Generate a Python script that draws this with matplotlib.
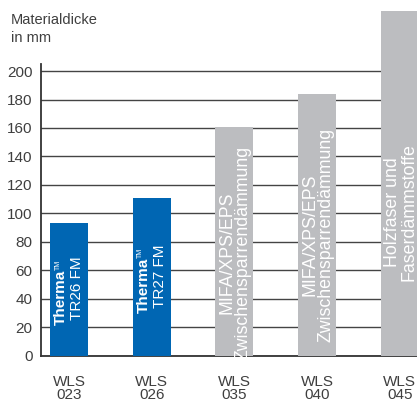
import matplotlib
matplotlib.use("Agg")
import matplotlib.pyplot as plt
import numpy as np

# data
wls_classes = ["023", "026", "035", "040", "045"]
thickness = [93, 111, 161, 184, 242]
bar_colors = ["#0066b3", "#0066b3", "#bcbdc0", "#bcbdc0", "#bcbdc0"]
y_ticks = [0, 20, 40, 60, 80, 100, 120, 140, 160, 180, 200]

plt.rcParams["font.family"] = ["Liberation Sans", "DejaVu Sans"]
text_col = "#3f3f3f"

fig = plt.figure(figsize=(4.17, 4.01), dpi=100)
ax = fig.add_axes([41 / 417, 45.5 / 401, 376 / 417, 355.5 / 401])

index = np.arange(len(wls_classes))
ax.bar(index, thickness, 0.46, color=bar_colors, zorder=3)

ax.set_xlim(-0.34, 4.21)
ax.set_ylim(0, 250)

ax.set_yticks(y_ticks)
ax.set_yticklabels([str(v) for v in y_ticks], fontsize=11, color=text_col)
ax.yaxis.grid(True, color="#444444", linewidth=1.0, zorder=1)
ax.set_axisbelow(True)

ax.set_xticks(index)
ax.set_xticklabels(["WLS\n" + c for c in wls_classes], fontsize=11, color=text_col,
                   va="top", linespacing=0.95)
ax.tick_params(axis="x", length=0, pad=14)
ax.tick_params(axis="y", length=0, pad=6)

for s in ["top", "right"]:
    ax.spines[s].set_visible(False)
ax.spines["left"].set_bounds(0, 205)
ax.spines["left"].set_color("#333333")
ax.spines["bottom"].set_color("#333333")
ax.spines["left"].set_linewidth(1.3)
ax.spines["bottom"].set_linewidth(1.3)

# labels inside the blue bars
therma_specs = [(0, "TR26 FM", 21.5, 25), (1, "TR27 FM", 30, 33.5)]
for i, name, yb, yn in therma_specs:
    t = ax.text(i - 0.1, yb, "Therma", rotation=90, color="white", fontsize=11,
                fontweight="bold", ha="center", va="bottom", zorder=4)
    ax.annotate("TM", xy=(0.05, 1.0), xycoords=t, rotation=90, color="white",
                fontsize=5, ha="left", va="bottom", zorder=4)
    ax.text(i + 0.1, yn, name, rotation=90, color="white", fontsize=11,
            ha="center", va="bottom", zorder=4)

# labels inside the grey bars
grey_specs = [(2, "MIFA/XPS/EPS\nZwischensparrendämmung", 72),
              (3, "MIFA/XPS/EPS\nZwischensparrendämmung", 85),
              (4, "Holzfaser und\nFaserdämmstoffe", 101)]
for i, label, yc in grey_specs:
    ax.text(i + 0.01, yc, label, rotation=90, color="white", fontsize=12.8,
            ha="center", va="center", multialignment="center",
            linespacing=0.95, zorder=4)

fig.text(11 / 417, 1 - 13 / 401, "Materialdicke\nin mm", fontsize=10.5, color=text_col,
         ha="left", va="top", linespacing=1.4)

fig.savefig("out.png", dpi=100)
